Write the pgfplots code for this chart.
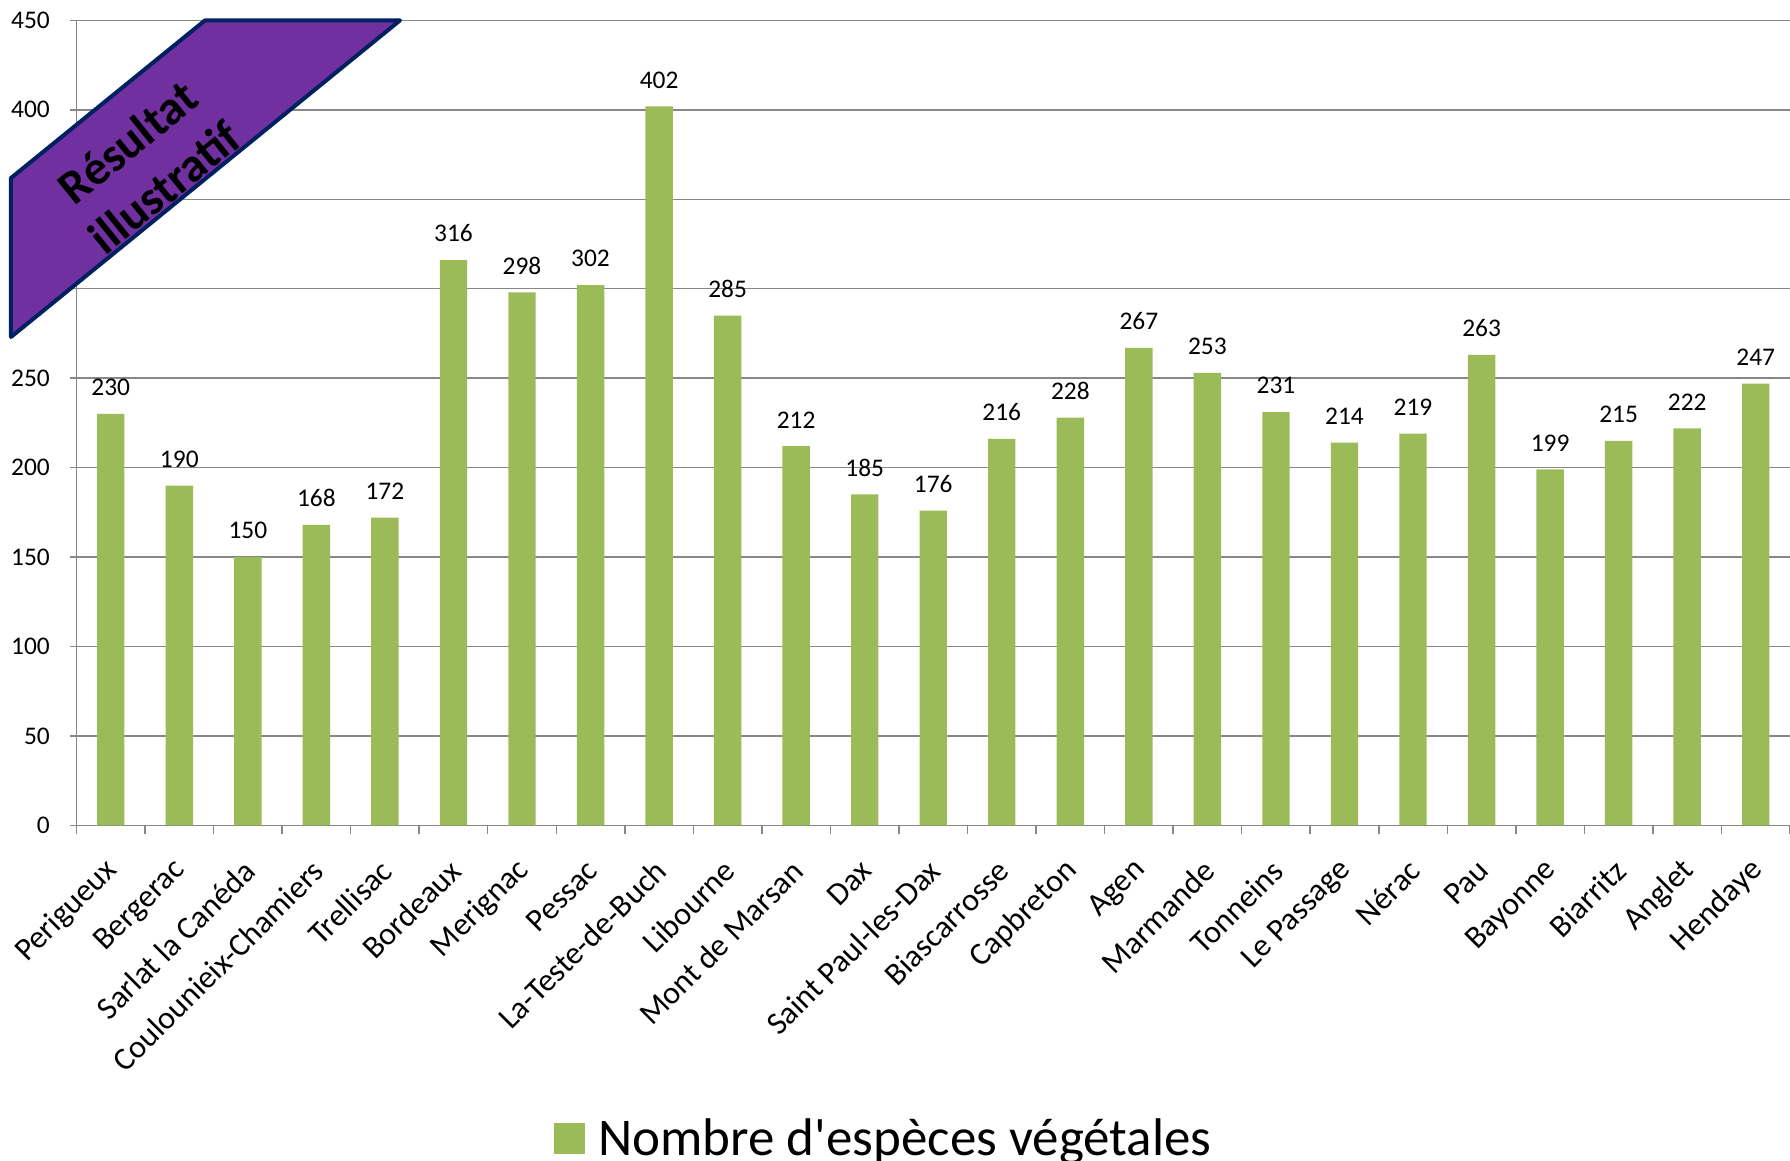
\documentclass[border=0pt]{standalone}
\usepackage{fontspec}
\setmainfont{Carlito}[Ligatures=TeXOff]
\usepackage{pgfplots}
\pgfplotsset{compat=1.18}
\usepackage{pgfplotstable}
\definecolor{bargreen}{HTML}{9BBB59}
\definecolor{bannerfill}{HTML}{7030A0}
\definecolor{bannerdraw}{HTML}{002060}
\definecolor{gridgray}{HTML}{878787}

% index, number of plant species
\pgfplotstableread{
idx val
0 230
1 190
2 150
3 168
4 172
5 316
6 298
7 302
8 402
9 285
10 212
11 185
12 176
13 216
14 228
15 267
16 253
17 231
18 214
19 219
20 263
21 199
22 215
23 222
24 247
}\species

\begin{document}
\begin{tikzpicture}
\path[use as bounding box] (-38.25pt,-167.8pt) rectangle (856.75pt,412.7pt);
\begin{axis}[
    at={(0,0)}, anchor=south west,
    scale only axis, width=856.75pt, height=402.5pt,
    ybar, bar width=13.7pt,
    xmin=-0.5, xmax=24.5, ymin=0, ymax=450,
    ytick={0,50,...,450},
    xtick={0,...,24},
    xticklabels={Perigueux, Bergerac, {Sarlat la Canéda}, Coulounieix-Chamiers,
        Trellisac, Bordeaux, Merignac, Pessac, La-Teste-de-Buch, Libourne,
        {Mont de Marsan}, Dax, {Saint Paul-les-Dax}, Biascarrosse, Capbreton,
        Agen, Marmande, Tonneins, {Le Passage}, Nérac, Pau, Bayonne, Biarritz,
        Anglet, Hendaye},
    minor xtick={-0.5,0.5,...,24.5},
    axis x line*=bottom, axis y line*=left,
    axis line style={gridgray, line width=0.75pt, -},
    ymajorgrids, grid style={gridgray, line width=0.75pt},
    tick align=outside,
    major tick length=3pt, minor tick length=4.5pt,
    major x tick style={draw=none},
    minor x tick style={gridgray, line width=0.75pt},
    ytick style={gridgray, line width=0.75pt},
    /pgf/number format/assume math mode=true,
    yticklabel style={font=\fontsize{12.7}{15}\selectfont, xshift=-6.8pt},
    xticklabel style={font=\fontsize{16}{19}\selectfont, inner sep=0pt,
        xshift=1pt, yshift=-17pt, rotate=45, anchor=east},
    nodes near coords,
    nodes near coords style={font=\fontsize{12.7}{15}\selectfont, text=black, yshift=5.5pt},
    legend style={at={(0.4717,-0.3886)}, anchor=center, draw=none,
        font=\fontsize{26.5}{31}\selectfont},
    legend image code/.code={\fill[bargreen] (0pt,-7.75pt) rectangle (15.5pt,7.75pt);
        \path (20pt,0pt);},
]
\addplot[fill=bargreen, draw=none] table[x=idx, y=val] {\species};
\addlegendentry{Nombre d'espèces végétales}
\end{axis}
\draw[bannerdraw, line width=2pt, fill=bannerfill, line join=round]
    (-32.75pt,323.7pt) -- (64.25pt,402.5pt) -- (161.75pt,402.5pt) -- (-32.75pt,244.2pt) -- cycle;
\node[rotate=39, font=\bfseries\fontsize{24}{29}\selectfont, align=center]
    at (34.75pt,330.45pt) {Résultat\\illustratif};
\end{tikzpicture}
\end{document}
